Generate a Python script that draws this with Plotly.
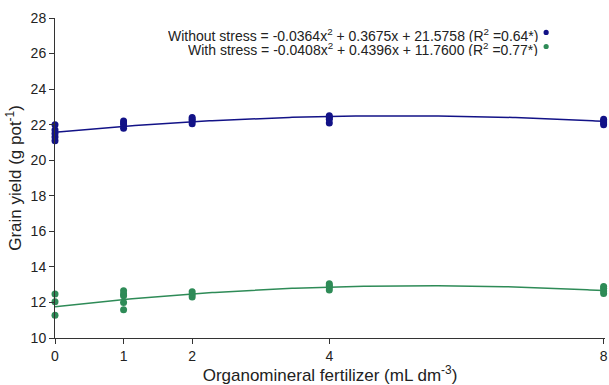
import numpy as np
import plotly.graph_objects as go

x_without = [0, 0, 0, 0, 0, 1, 1, 1, 1, 2, 2, 2, 2, 4, 4, 4, 4, 8, 8, 8, 8]
y_without = [21.1, 21.3, 21.5, 21.7, 22.0,
             21.8, 22.0, 22.1, 22.2,
             22.05, 22.2, 22.3, 22.4,
             22.1, 22.3, 22.4, 22.5,
             22.0, 22.1, 22.2, 22.3]

x_with = [0, 0, 0, 1, 1, 1, 1, 1, 2, 2, 2, 4, 4, 4, 4, 8, 8, 8, 8]
y_with = [11.28, 12.04, 12.47,
          11.59, 12.0, 12.38, 12.47, 12.66,
          12.3, 12.45, 12.6,
          12.7, 12.85, 12.95, 13.05,
          12.5, 12.65, 12.8, 12.9]

# Regression coefficients (a, b, c) from the chart's equations
coef_without = [-0.0364, 0.3675, 21.5758]
coef_with = [-0.0408, 0.4396, 11.7600]

x_ticks = [0, 1, 2, 4, 8]
y_ticks = [10, 12, 14, 16, 18, 20, 22, 24, 26, 28]

legend_labels = [
    "Without stress = -0.0364x<sup>2</sup> + 0.3675x + 21.5758 (R<sup>2</sup> =0.64*)",
    "With stress = -0.0408x<sup>2</sup> + 0.4396x + 11.7600 (R<sup>2</sup> =0.77*)",
]

BLUE = "#121287"
GREEN = "#2e8b57"
FONT = "Liberation Sans, Arial, sans-serif"

xs = np.linspace(0, 8, 200)

def quad(c, x):
    return c[0] * x ** 2 + c[1] * x + c[2]

fig = go.Figure()
fig.add_trace(go.Scatter(x=xs, y=quad(coef_without, xs), mode="lines",
                         line=dict(color=BLUE, width=1.5), showlegend=False))
fig.add_trace(go.Scatter(x=xs, y=quad(coef_with, xs), mode="lines",
                         line=dict(color=GREEN, width=1.5), showlegend=False))
fig.add_trace(go.Scatter(x=x_without, y=y_without, mode="markers",
                         marker=dict(color=BLUE, size=7), cliponaxis=False,
                         showlegend=False))
fig.add_trace(go.Scatter(x=x_with, y=y_with, mode="markers",
                         marker=dict(color=GREEN, size=7), cliponaxis=False,
                         showlegend=False))

for i, (lab, col) in enumerate(zip(legend_labels, [BLUE, GREEN])):
    yy = 0.947 - i * 0.044
    fig.add_annotation(xref="paper", yref="paper", x=0.882, y=yy, text=lab,
                       showarrow=False, xanchor="right", yanchor="middle",
                       height=14, valign="middle",
                       font=dict(family=FONT, size=14, color="#222"))
    fig.add_shape(type="circle", xref="paper", yref="paper",
                  xsizemode="pixel", ysizemode="pixel",
                  xanchor=0.893, yanchor=yy + 0.008,
                  x0=-2.6, x1=2.6, y0=-2.6, y1=2.6,
                  fillcolor=col, line=dict(width=0))

fig.update_layout(
    width=609, height=385,
    margin=dict(l=55, r=4, t=18, b=47),
    plot_bgcolor="white", paper_bgcolor="white",
    font=dict(family=FONT, size=14, color="#222"),
    xaxis=dict(range=[0, 8.02], tickvals=x_ticks, showgrid=False, zeroline=False,
               showline=True, linecolor="#333", linewidth=1, automargin=False,
               ticks="outside", ticklen=5, tickcolor="#333",
               title=dict(text="Organomineral fertilizer (mL dm<sup>-3</sup>)",
                          standoff=2)),
    yaxis=dict(range=[10, 28], tickvals=y_ticks, showgrid=False, zeroline=False,
               showline=True, linecolor="#333", linewidth=1, automargin=False,
               ticks="outside", ticklen=5, tickcolor="#333",
               title=dict(text="Grain yield (g pot<sup>-1</sup>)", standoff=4)),
)

fig.write_html("out.html", config={"displayModeBar": False},
               post_script="document.body.style.margin='0';")
